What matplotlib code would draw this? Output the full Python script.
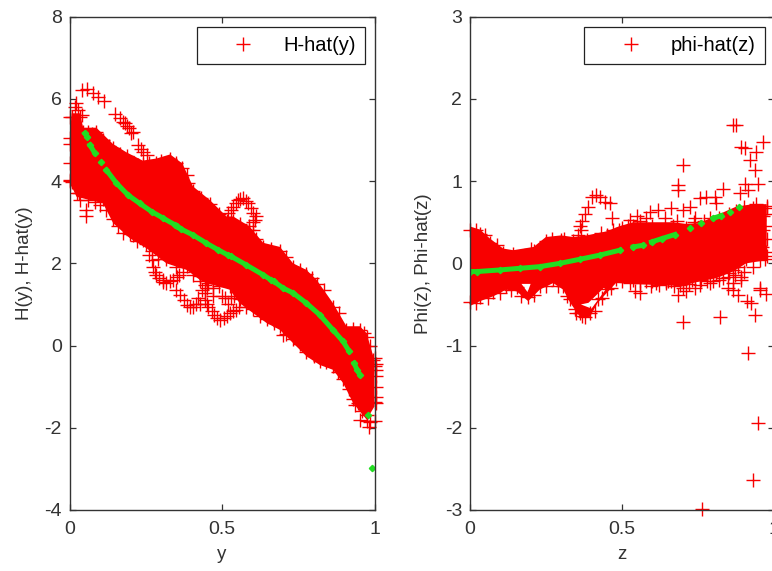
import matplotlib
matplotlib.use('Agg')
import matplotlib.pyplot as plt

plt.rcParams['font.family'] = ['Liberation Sans', 'DejaVu Sans']
plt.rcParams['axes.unicode_minus'] = False

RED = '#f80000'
GREEN = '#22dd22'
DARK = '#333333'

# left panel: outline of the dense cloud of H-hat(y)
h_top_x = [0.0, 0.007, 0.034, 0.045, 0.088, 0.143, 0.187, 0.24, 0.285, 0.33, 0.37, 0.405, 0.46, 0.515, 0.537,
           0.59, 0.635, 0.69, 0.733, 0.777, 0.81, 0.864, 0.908, 0.952, 0.974, 0.996, 1.0]
h_top_y = [5.0, 5.65, 5.65, 5.3, 5.3, 4.9, 4.7, 4.5, 4.55, 4.65, 4.43, 3.87, 3.54, 3.14, 3.14,
           2.9, 2.5, 2.4, 2.0, 1.84, 1.6, 1.03, 0.47, 0.47, 0.3, -0.26, -0.4]
h_low_x = [0.0, 0.007, 0.023, 0.11, 0.143, 0.198, 0.252, 0.318, 0.384, 0.427, 0.449, 0.525, 0.558, 0.602,
           0.646, 0.69, 0.733, 0.777, 0.82, 0.864, 0.897, 0.93, 0.974, 1.0]
h_low_y = [3.9, 3.87, 3.62, 3.46, 2.98, 2.61, 2.37, 2.0, 1.84, 1.6, 1.52, 1.36, 1.03, 0.79,
           0.55, 0.38, 0.06, -0.26, -0.47, -0.59, -0.91, -1.4, -1.8, -1.48]

# left panel: single crosses around the cloud
h_pts_x = [0.04, 0.058, 0.078, 0.094, 0.113, 0.149, 0.165, 0.175, 0.181, 0.19, 0.196, 0.203, 0.209, 0.225, 0.235, 0.242, 0.253,
           0.017, 0.028, 0.001, 0.0, 0.0, 0.0, 0.02, 0.04, 0.034, 0.054, 0.054, 0.1,
           0.52, 0.53, 0.537, 0.545, 0.553, 0.56, 0.569, 0.578, 0.586, 0.594, 0.602, 0.608, 0.61, 0.602, 0.6, 0.59,
           0.269, 0.274, 0.285, 0.307, 0.329, 0.351, 0.373, 0.427, 0.444, 0.318, 0.362, 0.395, 0.427, 0.444,
           0.466, 0.493, 0.525, 0.547, 0.455, 0.209, 0.242, 0.45, 0.47, 0.51,
           0.26, 0.28, 0.295, 0.34, 0.36, 0.305, 0.35, 0.375, 0.385, 0.405, 0.415, 0.42, 0.435, 0.445, 0.455, 0.475,
           0.485, 0.505, 0.515, 0.535, 0.555, 0.45, 0.5, 0.52, 0.47, 0.53,
           0.70, 0.952, 0.974, 1.0, 0.982, 1.006, 1.004, 1.006, 0.935,
           0.06, 0.075, 0.11, 0.13, 0.165, 0.21, 0.225, 0.26, 0.3, 0.35, 0.385, 0.39, 0.43, 0.49, 0.56, 0.61, 0.66,
           0.71, 0.755, 0.795, 0.835, 0.885, 0.93, 0.965, 0.985, 1.0, 1.005, 1.006, 1.004,
           0.03, 0.06, 0.085, 0.12, 0.16, 0.175, 0.22, 0.27, 0.29, 0.35, 0.405, 0.49, 0.54, 0.58, 0.625, 0.67, 0.71,
           0.755, 0.8, 0.84, 0.88, 0.915, 0.945, 0.96, 0.985]
h_pts_y = [6.22, 6.23, 6.15, 6.05, 5.95, 5.63, 5.53, 5.45, 5.41, 5.35, 5.29, 5.16, 5.2, 4.88, 4.78, 4.72, 4.64,
           5.81, 5.73, 5.57, 5.04, 4.43, 4.03, 5.9, 5.6, 3.54, 3.14, 3.3, 3.42,
           3.22, 3.3, 3.38, 3.46, 3.54, 3.56, 3.58, 3.52, 3.46, 3.35, 3.22, 3.06, 3.15, 2.81, 3.0, 2.9,
           2.08, 1.92, 1.72, 1.6, 1.56, 1.68, 1.8, 1.56, 1.48, 1.52, 1.24, 0.95, 1.0, 1.28,
           0.83, 0.63, 0.79, 0.87, 1.52, 2.69, 2.57, 1.0, 1.2, 1.15,
           2.2, 1.8, 1.65, 1.6, 1.72, 1.55, 1.35, 1.1, 0.98, 0.93, 1.0, 1.15, 1.35, 1.12, 0.95, 0.75,
           0.68, 0.68, 0.72, 0.83, 0.95, 1.4, 1.2, 1.0, 1.4, 1.15,
           0.26, -1.8, -1.84, -1.84, -1.97, -0.75, -1.4, -0.45, -1.44,
           5.2, 5.15, 5.0, 4.85, 4.65, 4.45, 4.4, 4.45, 4.5, 4.45, 4.15, 3.95, 3.6, 3.2, 2.95, 2.6, 2.35,
           2.15, 1.85, 1.65, 1.35, 0.8, 0.4, 0.3, 0.0, -0.3, -0.6, -1.0, -1.25,
           3.7, 3.55, 3.5, 3.3, 2.9, 2.75, 2.55, 2.3, 2.1, 1.9, 1.72, 1.45, 1.2, 0.95, 0.72, 0.55, 0.28,
           0.05, -0.25, -0.4, -0.65, -1.05, -1.4, -1.6, -1.85]

# left panel: true curve H(y), the None entries are gaps
h_x = [0.05, 0.058, None, 0.067, 0.083, None, 0.103, None, 0.121, 0.154, 0.192, 0.23, 0.269, 0.307, 0.345, None, 0.352,
       0.367, 0.405, 0.449, 0.487, 0.52, None, 0.53, 0.58, 0.635, 0.66, None, 0.67, 0.7, 0.733, 0.777, 0.82, 0.864, 0.897, 0.917, None,
       0.933, 0.943, 0.952, None, 0.98, None, 0.992]
h_y = [5.16, 5.08, None, 4.88, 4.68, None, 4.46, None, 4.27, 3.95, 3.66, 3.46, 3.26, 3.1, 2.94, None, 2.9,
       2.83, 2.69, 2.49, 2.33, 2.2, None, 2.17, 1.96, 1.72, 1.6, None, 1.56, 1.4, 1.28, 1.03, 0.75, 0.38, 0.1, -0.14, None,
       -0.43, -0.59, -0.71, None, -1.68, None, -2.98]

# right panel: outline of the dense cloud of phi-hat(z)
p_top_x = [0.0, 0.034, 0.067, 0.11, 0.143, 0.21, 0.25, 0.3, 0.34, 0.384, 0.45, 0.49, 0.537,
           0.6, 0.668, 0.71, 0.755, 0.82, 0.875, 0.93, 0.975]
p_top_y = [0.45, 0.41, 0.3, 0.18, 0.16, 0.2, 0.32, 0.34, 0.32, 0.34, 0.39, 0.45, 0.5,
           0.5, 0.5, 0.48, 0.49, 0.6, 0.69, 0.72, 0.72]
p_low_x = [0.0, 0.034, 0.078, 0.12, 0.154, 0.192, 0.23, 0.274, 0.307, 0.33, 0.362, 0.395, 0.42, 0.45, 0.48,
           0.537, 0.646, 0.70, 0.755, 0.81, 0.864, 0.908, 0.975]
p_low_y = [-0.52, -0.46, -0.4, -0.32, -0.34, -0.46, -0.32, -0.24, -0.32, -0.48, -0.65, -0.65, -0.48, -0.36, -0.24,
           -0.25, -0.27, -0.27, -0.22, -0.18, -0.1, 0.0, 0.04]

# right panel: small white gaps inside the cloud
p_gap_x = [[0.365, 0.40, 0.45, 0.44, 0.39], [0.17, 0.2, 0.19]]
p_gap_y = [[-0.5, -0.55, -0.3, -0.3, -0.48], [-0.25, -0.25, -0.35]]

# right panel: single crosses
p_pts_x = [0.864, 0.873, 0.892, 0.903, 0.963, 0.941, 0.919, 0.936, 0.70, 0.684, 0.684, 0.903, 0.946, 0.832, 0.886,
           0.914, 0.755, 0.777, 0.804, 0.81, 0.662, 0.70, 0.722, 0.619, 0.591, 0.548, 0.526, 0.963, 0.963, 0.974, 0.952,
           0.416, 0.4, 0.427, 0.444, 0.46, 0.466, 0.389, 0.37, 0.362, 0.378, 0.355, 0.365,
           0.864, 0.848, 0.952, 0.864, 0.526, 0.558, 0.596, 0.684, 0.711, 0.755, 0.848, 0.881, 0.909, 0.925, 0.952, 0.974,
           0.70, 0.823, 0.936, 0.914, 0.946, 0.93, 0.761, 0.542, 0.646, 0.788, 0.864,
           0.56, 0.62, 0.66, 0.72, 0.76, 0.8, 0.83, 0.89, 0.6, 0.69, 0.74,
           0.56, 0.58, 0.64, 0.68, 0.735, 0.74, 0.77, 0.79, 0.85, 0.9, 0.94, 0.975, 0.97, 0.97, 0.975, 0.96, 0.97,
           0.52, 0.50, 0.47, 0.43, 0.31, 0.27, 0.2, 0.02, 0.05, 0.09,
           0.56, 0.58, 0.61, 0.65, 0.67, 0.7, 0.73, 0.78, 0.82, 0.85, 0.87, 0.88, 0.89, 0.9, 0.93,
           0.02, 0.06, 0.1, 0.135, 0.17, 0.21, 0.25, 0.29, 0.32, 0.345, 0.38, 0.41, 0.435, 0.465, 0.5, 0.35, 0.37]
p_pts_y = [1.68, 1.68, 1.41, 1.4, 1.47, 1.36, 1.26, 1.14, 1.2, 0.89, 0.95, 0.97, 0.97, 0.91, 0.85,
           0.89, 0.79, 0.81, 0.81, 0.73, 0.67, 0.65, 0.69, 0.65, 0.63, 0.57, 0.53, 0.57, 0.41, 0.14, 0.04,
           0.83, 0.81, 0.81, 0.75, 0.73, 0.55, 0.68, 0.51, 0.45, 0.6, 0.35, 0.4,
           -0.08, -0.16, -0.3, -0.24, -0.24, -0.36, -0.28, -0.38, -0.34, -0.26, -0.3, -0.38, -0.46, -0.48, -0.32, -0.37,
           -0.71, -0.65, -0.63, -1.09, -1.94, -2.63, -2.99, -0.34, -0.24, -0.24, -0.32,
           -0.24, -0.26, -0.22, -0.25, -0.2, -0.22, -0.18, -0.16, -0.22, -0.26, -0.3,
           0.52, 0.55, 0.55, 0.52, 0.5, 0.55, 0.52, 0.55, 0.6, 0.68, 0.72, 0.7, 0.6, 0.45, 0.3, 0.2, 0.05,
           0.45, 0.43, 0.4, 0.37, 0.3, 0.3, 0.18, 0.4, 0.35, 0.22,
           -0.2, -0.22, -0.24, -0.22, -0.27, -0.3, -0.2, -0.22, -0.2, -0.12, -0.14, -0.05, -0.2, -0.1, -0.05,
           -0.48, -0.42, -0.36, -0.33, -0.4, -0.38, -0.28, -0.28, -0.4, -0.55, -0.65, -0.58, -0.42, -0.3, -0.22, -0.6, -0.64]

# right panel: true curve Phi(z)
p_x = [0.0, 0.023, 0.1, 0.165, 0.23, 0.296, 0.362, 0.427, 0.493, None, 0.537, 0.569, None, 0.597, 0.63, 0.673, None, 0.722, None, 0.76, None, 0.8, 0.826, None, 0.854, None, 0.884]
p_y = [-0.1, -0.1, -0.08, -0.06, -0.04, 0.0, 0.05, 0.1, 0.16, None, 0.2, 0.22, None, 0.26, 0.3, 0.35, None, 0.43, None, 0.49, None, 0.55, 0.58, None, 0.63, None, 0.68]

W, H = 772, 571


def panel(rect, top, low, pts, curve, xlab, ylab, ylim, yticks, name, inset, ylabelpad, gaps=None):
    ax = fig.add_axes([rect[0] / W, (H - rect[3]) / H, (rect[2] - rect[0]) / W, (rect[3] - rect[1]) / H])
    # dense cloud outline, then crosses on its edge and around it
    ax.fill(top[0] + low[0][::-1], top[1] + low[1][::-1], color=RED, lw=0, zorder=2)
    if gaps:
        for gx, gy in zip(*gaps):
            ax.fill(gx, gy, color='white', lw=0, zorder=2)
    ax.plot(top[0], [v - inset for v in top[1]], '+', color=RED, ms=9.5, mew=1.0, clip_on=False, zorder=2)
    ax.plot(low[0], [v + inset for v in low[1]], '+', color=RED, ms=9.5, mew=1.0, clip_on=False, zorder=2)
    line, = ax.plot(pts[0], pts[1], '+', color=RED, ms=9.5, mew=1.0, clip_on=False, zorder=2, label=name)
    xs = [float('nan') if v is None else v for v in curve[0]]
    ys = [float('nan') if v is None else v for v in curve[1]]
    ax.plot(xs, ys, '-D', color=GREEN, lw=3.6, ms=3.2, zorder=3)
    ax.set_xlim(0, 1)
    ax.set_ylim(*ylim)
    ax.set_xticks([0, 0.5, 1])
    ax.set_xticklabels(['0', '0.5', '1'])
    ax.set_yticks(yticks)
    ax.tick_params(direction='in', top=True, right=True, length=4, width=0.9, color=DARK,
                   labelsize=14, labelcolor=DARK, pad=5.5)
    ax.tick_params(axis='x', pad=8)
    for s in ax.spines.values():
        s.set_color(DARK)
        s.set_linewidth(1.0)
        s.set_zorder(4)
    ax.set_xlabel(xlab, fontsize=13.5, color=DARK, labelpad=6)
    ax.set_ylabel(ylab, fontsize=13.5, color=DARK, labelpad=ylabelpad)
    leg = ax.legend(handles=[line], loc='upper right', bbox_to_anchor=(rect[4] / rect[5], 0.9795), borderaxespad=0,
                    fancybox=False, framealpha=1, edgecolor='#222222', fontsize=14.5, numpoints=1,
                    handlelength=3.7, handletextpad=0.15, borderpad=0.45)
    leg.get_frame().set_linewidth(0.9)
    leg.set_zorder(5)
    return ax


fig = plt.figure(figsize=(7.72, 5.71), dpi=100)
panel((69.5, 16.7, 374.5, 510, 295.5, 305), (h_top_x, h_top_y), (h_low_x, h_low_y), (h_pts_x, h_pts_y), (h_x, h_y),
      'y', 'H(y), H-hat(y)', (-4, 8), [-4, -2, 0, 2, 4, 6, 8], 'H-hat(y)', 0.1, 8)
panel((469.7, 16.7, 774.3, 510, 295.3, 304.6), (p_top_x, p_top_y), (p_low_x, p_low_y), (p_pts_x, p_pts_y), (p_x, p_y),
      'z', 'Phi(z), Phi-hat(z)', (-3, 3), [-3, -2, -1, 0, 1, 2, 3], 'phi-hat(z)', 0.05, 9, (p_gap_x, p_gap_y))
fig.savefig('out.png', dpi=100)
